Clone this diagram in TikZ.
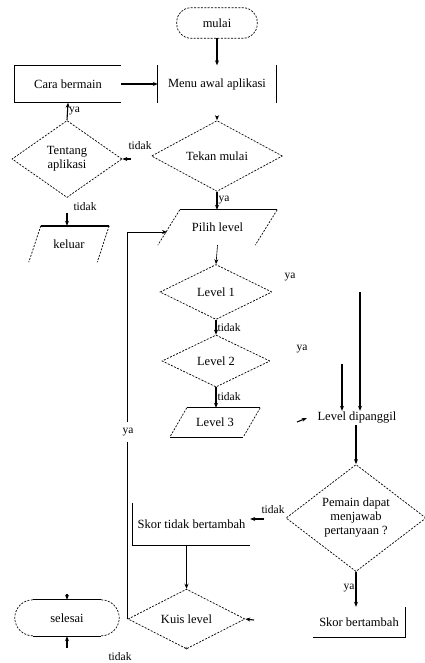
\documentclass[tikz,border=0pt]{standalone}
\usepackage{fontspec}
\setmainfont{Liberation Serif}
\usetikzlibrary{shapes.geometric,arrows.meta,calc}
\begin{document}
\begin{tikzpicture}[x=1pt,y=-1pt,
  font=\fontsize{12.5}{14}\selectfont,
  solidln/.style={line width=1.1pt},
  dashln/.style={line width=0.7pt,dash pattern=on 2pt off 1.4pt},
  arr/.style={solidln,-{Stealth[length=5pt,width=4pt]}},
  dec/.style={diamond,dashln,draw,inner sep=0pt,align=center},
  txt/.style={inner sep=0pt,align=center},
  lbl/.style={font=\fontsize{11.5}{12}\selectfont,inner sep=1pt}]
\useasboundingbox (0,0) rectangle (425,663);
% nodes
\node[txt,minimum width=80,minimum height=30] (mulai) at (217,23) {mulai};
\draw[dashln,rounded corners=14pt] (mulai.north west) rectangle (mulai.south east);
\node[txt,minimum width=118,minimum height=37] (menu) at (217,84) {Menu awal aplikasi};
\draw[solidln] (menu.north west) -- (menu.south west) (menu.north east) -- (menu.south east);
\node[txt,minimum width=106,minimum height=37] (cara) at (68,84) {Cara bermain};
\draw[solidln] (cara.north east) -- (cara.north west) -- (cara.south west) -- (cara.south east);
\node[dec,minimum width=110,minimum height=77] (tent) at (67,159) {Tentang\\aplikasi};
\node[dec,minimum width=131,minimum height=63] (tekan) at (217,156) {Tekan mulai};
% keluar parallelogram
\node[txt,minimum width=80,minimum height=36] (kel) at (69,244) {keluar};
\draw[solidln,line width=1.5pt] ($(kel.north west)+(12,0)$) -- (kel.north east);
\draw[dashln] ($(kel.north west)+(12,0)$) -- (kel.south west)
  (kel.north east) -- ($(kel.south east)-(12,0)$);
% pilih level
\node[txt,minimum width=119,minimum height=35] (pilih) at (217.5,227.5) {Pilih level};
\draw[solidln] ($(pilih.north west)+(22,0)$) -- (pilih.north east);
\draw[dashln] ($(pilih.north west)+(22,0)$) -- (pilih.south west)
  (pilih.north east) -- ($(pilih.south east)-(22,0)$);
\node[dec,minimum width=112,minimum height=55] (lv1) at (216,292) {Level 1};
\node[dec,minimum width=108,minimum height=52] (lv2) at (216,361) {Level 2};
% level 3
\node[txt,minimum width=90,minimum height=29] (lv3) at (215,422.5) {Level 3};
\draw[solidln,line width=0.7pt] ($(lv3.north west)+(17,0)$) -- (lv3.north east);
\draw[solidln] (lv3.south west) -- ($(lv3.south east)-(17,0)$);
\draw[dashln] ($(lv3.north west)+(17,0)$) -- (lv3.south west)
  (lv3.north east) -- ($(lv3.south east)-(17,0)$);
\node[txt,minimum width=100,minimum height=14] (lvd) at (357,418) {Level dipanggil};
\node[dec,minimum width=140,minimum height=107] (perta) at (356,518) {Pemain dapat\\menjawab\\pertanyaan ?};
\node[txt,minimum width=117,minimum height=42] (skt) at (191.5,524) {Skor tidak bertambah};
\draw[solidln] (skt.north west) -- (skt.south west) -- (skt.south east);
\node[txt,minimum width=92,minimum height=30] (skb) at (359,622) {Skor bertambah};
\draw[solidln] (skb.north east) -- (skb.south east) -- (skb.south west);
\node[dec,minimum width=117,minimum height=42] (kuis) at (186.5,619) {Kuis level};
\node[txt,minimum width=88,minimum height=36] (sel) at (67,618) {selesai};
\draw[dashln] ($(sel.north west)+(10,0)$) arc[start angle=90,end angle=270,radius=18pt];
\draw[dashln] ($(sel.north east)-(10,0)$) arc[start angle=90,end angle=-90,radius=18pt];
\draw[solidln] ($(sel.north west)+(10,0)$) -- ($(sel.north east)-(10,0)$)
  ($(sel.south west)+(10,0)$) -- ($(sel.south east)-(10,0)$);
% free-end coordinates
\coordinate (c1) at (217,116);
\coordinate (c2) at (131,159);
\coordinate (c3) at (67,213);
\coordinate (c4) at (360,292);
\coordinate (c5) at (342,364);
\coordinate (c6) at (297,422);
\coordinate (c7) at (264,519);
\coordinate (c8) at (254,620);
\coordinate (c9) at (67,594);
\coordinate (c10) at (67,648);
\coordinate (c11) at (186,647);
\coordinate (c12) at (167,232);
% connectors
\draw[arr] (mulai.south) -- (menu.north);
\draw[arr] (cara.east) -- (menu.west);
\draw[arr] (tent.north) -- (cara.south) node[lbl,pos=0.5,right] {ya};
\draw[arr] (c1) -- (tekan.north);
\draw[arr] (c2) -- (tent.east);
\node[lbl] (t1) at (140,146) {tidak};
\draw[arr] (tekan.south) -- (tekan.south |- pilih.north) node[lbl,pos=0.45,right] {ya};
\draw[arr] (c3) -- (c3 |- kel.north);
\node[lbl] (t2) at (85,207) {tidak};
\draw[arr,line width=0.6pt] (pilih.south) -- (lv1.north);
\draw[arr] (lv1.south) -- (lv2.north) node[lbl,pos=0.5,right] {tidak};
\draw[arr] (lv2.south) -- (lv2.south |- lv3.north) node[lbl,pos=0.45,right] {tidak};
\node[lbl] (y1) at (290,277) {ya};
\node[lbl] (y2) at (302,349) {ya};
\draw[arr] (c4) -- (c4 |- lvd.north);
\draw[arr] (c5) -- (c5 |- lvd.north);
\draw[arr] (c6) -- (lvd.west);
\draw[arr] (lvd.south -| perta.north) -- (perta.north);
\draw[arr] (c7) -- (skt.east |- c7);
\node[lbl] (t3) at (273,510) {tidak};
\draw[arr] (perta.south) -- (perta.south |- skb.north) node[lbl,pos=0.45,left] {ya};
\draw[arr] (skt.south -| kuis.north) -- (kuis.north);
\draw[solidln,line width=0.8pt,-{Stealth[length=5pt,width=4pt]}] (kuis.west) -- (kuis.west |- c12) -- (c12);
\node[lbl,fill=white,inner ysep=6pt] (y3) at (128,432) {ya};
\draw[arr] (c8) -- (kuis.east);
\draw[arr] (c9) -- (sel.north);
\draw[arr] (c10) -- (sel.south);
\draw[solidln,line width=0.6pt] (kuis.south) -- (c11);
\node[lbl] (t4) at (120,657) {tidak};
\end{tikzpicture}
\end{document}
